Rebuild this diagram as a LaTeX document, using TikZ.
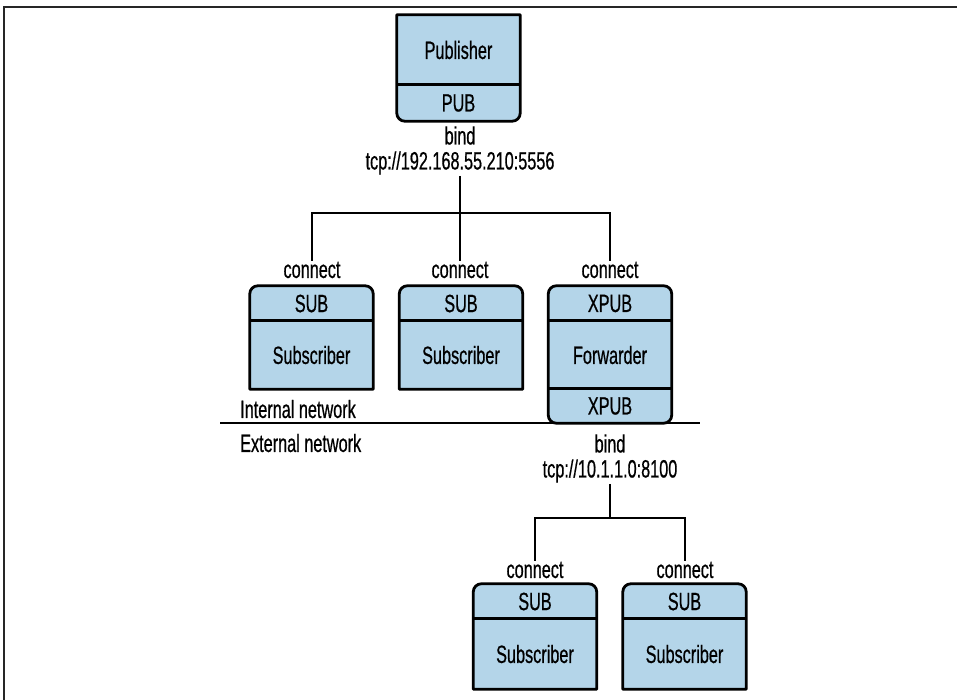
\documentclass[tikz,border=0pt]{standalone}
\usepackage{fontspec}
\setmainfont[FakeStretch=0.65,FakeBold=0.6]{Liberation Sans}
\usetikzlibrary{backgrounds}
\definecolor{sockblue}{RGB}{180,213,233}

\begin{document}
\begin{tikzpicture}[x=1pt,y=1pt]
		\tikzstyle{txt}=[font=\fontsize{25}{25}\selectfont, inner sep=1pt, align=center]
		\tikzstyle{cell}=[txt, minimum width=123pt, inner sep=0pt]
		\tikzstyle{boxline}=[line width=2.8pt, fill=sockblue, line join=round]
		\tikzstyle{divider}=[line width=2.8pt]
		\tikzstyle{wire}=[line width=2.4pt]
		\tikzstyle{netline}=[line width=2pt]
		\tikzstyle{frame}=[line width=2pt, black!85]
		
		\useasboundingbox (0,0) rectangle (957,-700);
		\draw[frame] (957,-7) -- (4,-7) -- (4,-700);
		
		% publisher
		\node[cell, minimum height=70pt] (pub) at (458.5,-50) {Publisher};
		\node[cell, minimum height=36pt] (pubsock) at (458.5,-103) {PUB};
		\node[txt] (bind1) at (460,-150.5) {bind\\tcp://192.168.55.210:5556};
		\coordinate (split1) at (460,-213);
		
		% first row
		\node[txt] (con1) at (312,-270) {connect};
		\node[txt] (con2) at (460,-270) {connect};
		\node[txt] (con3) at (610,-270) {connect};
		\node[cell, minimum height=35pt] (sock1) at (311.5,-303.5) {SUB};
		\node[cell, minimum height=68pt] (name1) at (311.5,-355) {Subscriber};
		\node[cell, minimum height=35pt] (sock2) at (461,-303.5) {SUB};
		\node[cell, minimum height=68pt] (name2) at (461,-355) {Subscriber};
		\node[cell, minimum height=35pt] (fsock) at (610,-303.5) {XPUB};
		\node[cell, minimum height=68pt] (fname) at (610,-355) {Forwarder};
		\node[cell, minimum height=34pt] (fsock2) at (610,-406) {XPUB};
		
		% network border
		\coordinate (netL) at (220,-423);
		\coordinate (netR) at (700,-423);
		\node[txt, anchor=west] (inside) at (239,-409) {Internal network};
		\node[txt, anchor=west] (outside) at (239,-443) {External network};
		
		% second row
		\node[txt] (bind2) at (610,-458.5) {bind\\tcp://10.1.1.0:8100};
		\coordinate (split2) at (610,-518);
		\node[txt] (con4) at (535,-570) {connect};
		\node[txt] (con5) at (685,-570) {connect};
		\node[cell, minimum height=35pt] (sock4) at (535,-601.5) {SUB};
		\node[cell, minimum height=70pt] (name4) at (535,-654) {Subscriber};
		\node[cell, minimum height=35pt] (sock5) at (684.5,-601.5) {SUB};
		\node[cell, minimum height=70pt] (name5) at (684.5,-654) {Subscriber};
		
		\begin{scope}[on background layer]
		\draw[boxline] (pub.north west) -- (pub.north east) -- ([yshift=8pt]pubsock.south east)
			arc[start angle=0, end angle=-90, radius=8pt] -- ([xshift=8pt]pubsock.south west)
			arc[start angle=270, end angle=180, radius=8pt] -- cycle;
		\foreach \s/\n in {sock1/name1, sock2/name2, sock4/name4, sock5/name5}{
			\draw[boxline] (\n.south west) -- ([yshift=-8pt]\s.north west)
				arc[start angle=180, end angle=90, radius=8pt] -- ([xshift=-8pt]\s.north east)
				arc[start angle=90, end angle=0, radius=8pt] -- (\n.south east) -- cycle;
		}
		\draw[boxline] ([yshift=-8pt]fsock.north west)
			arc[start angle=180, end angle=90, radius=8pt] -- ([xshift=-8pt]fsock.north east)
			arc[start angle=90, end angle=0, radius=8pt] -- ([yshift=8pt]fsock2.south east)
			arc[start angle=0, end angle=-90, radius=8pt] -- ([xshift=8pt]fsock2.south west)
			arc[start angle=270, end angle=180, radius=8pt] -- cycle;
		\end{scope}
		
		\draw[divider] (pubsock.north west) -- (pubsock.north east);
		\foreach \n in {name1, name2, fname, fsock2, name4, name5}
			\draw[divider] (\n.north west) -- (\n.north east);
		
		\draw[netline] (netL) -- (netR);
		
		\draw[wire] (bind1.south) -- (split1);
		\draw[wire] (split1) -| (con1.north);
		\draw[wire] (split1) -- (con2.north);
		\draw[wire] (split1) -| (con3.north);
		\draw[wire] (bind2.south) -- (split2);
		\draw[wire] (split2) -| (con4.north);
		\draw[wire] (split2) -| (con5.north);
		\end{tikzpicture}
\end{document}
